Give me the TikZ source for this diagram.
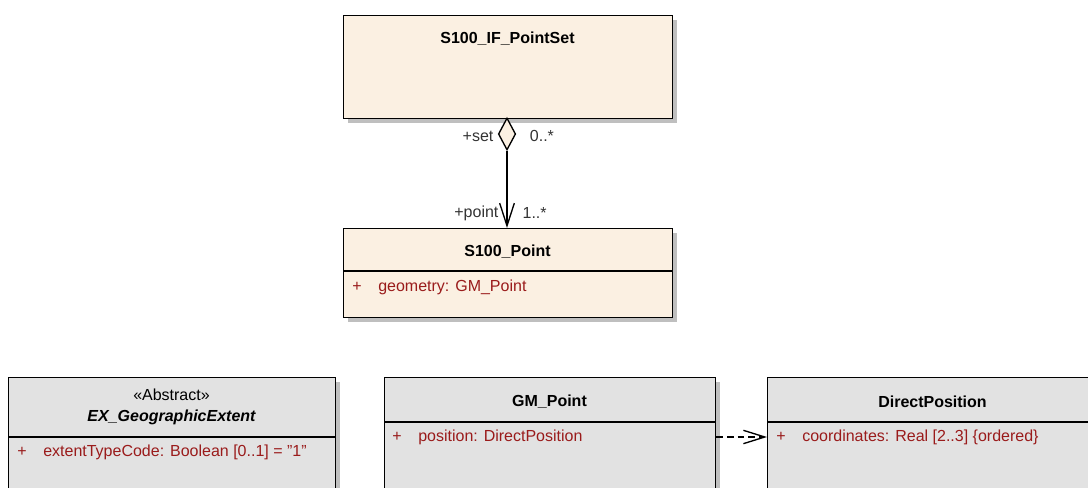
\documentclass[tikz,border=0pt]{standalone}
\usepackage{fontspec}
\setmainfont{Liberation Sans}
\usetikzlibrary{shapes.geometric, arrows.meta, positioning, shadows}
\definecolor{umlBeige}{HTML}{FBF0E2}
\definecolor{umlGray}{HTML}{E2E2E2}
\definecolor{umlAttr}{HTML}{9A1B1B}
\definecolor{umlLabel}{HTML}{333333}
\tikzset{
    classbox/.style={rectangle, draw=black, line width=1pt, anchor=north west, inner sep=0pt, drop shadow={shadow xshift=3pt, shadow yshift=-3pt, fill=black!25, opacity=1}},
    beigebox/.style={classbox, fill=umlBeige},
    graybox/.style={classbox, fill=umlGray},
    classtitle/.style={font=\fontsize{12}{14}\selectfont\bfseries, inner sep=1pt},
    stereo/.style={font=\fontsize{12}{14}\selectfont, inner sep=1pt},
    attr/.style={font=\fontsize{12}{14}\selectfont, text=umlAttr, anchor=west, inner sep=0pt},
    rolelabel/.style={font=\fontsize{12}{14}\selectfont, text=umlLabel, inner sep=1pt},
    aggdiamond/.style={diamond, draw=black, line width=1pt, fill=umlBeige, inner sep=0pt, minimum width=13pt, minimum height=24pt},
    assoc/.style={-{Straight Barb[length=17pt, width=11pt]}, line width=1pt},
    dep/.style={-{Straight Barb[length=16pt, width=10pt]}, dashed, line width=1pt, dash pattern=on 5pt off 3pt},
}
\newcommand{\plusattr}[1]{\makebox[19.5pt][l]{+}#1}

\begin{document}
\begin{tikzpicture}[x=0.75pt, y=-0.75pt]
    \useasboundingbox (0,0) rectangle (1088,488);
    \clip (0,0) rectangle (1088,488);

    % upper classes
    \node[beigebox, minimum width=246.75pt, minimum height=77.25pt] (ptset) at (343,15) {};
    \node[classtitle] (ptsetname) at (507.5,39) {S100\_IF\_PointSet};

    \node[beigebox, minimum width=246.75pt, minimum height=66.75pt] (point) at (343,228) {};
    \node[classtitle] (pointname) at (507.5,252) {S100\_Point};
    \draw[line width=1pt] ([yshift=-32.25pt]point.north west) -- ([yshift=-32.25pt]point.north east);
    \node[attr] (pointattr) at (352,287) {\plusattr{geometry: GM\_Point}};

    % aggregation
    \node[aggdiamond] (agg) at (507,134) {};
    \draw[assoc] (agg.south) -- (agg.south |- point.north);
    \node[rolelabel, left=2pt of agg, yshift=-1.5pt] (setrole) {+set};
    \node[rolelabel, right=9pt of agg, yshift=-1.5pt] (setmult) {0..*};
    \node[rolelabel, anchor=east] (pointrole) at (500,213) {+point};
    \node[rolelabel, anchor=west] (pointmult) at (521,213) {1..*};

    % lower classes
    \node[graybox, minimum width=245.25pt, minimum height=110pt] (geoext) at (8,377) {};
    \node[stereo] (geoextstereo) at (171.5,395) {«Abstract»};
    \node[classtitle, font=\fontsize{12}{14}\selectfont\bfseries\itshape] (geoextname) at (171.5,417) {EX\_GeographicExtent};
    \draw[line width=1pt] ([yshift=-45pt]geoext.north west) -- ([yshift=-45pt]geoext.north east);
    \node[attr] (geoextattr) at (17,452) {\plusattr{extentTypeCode: Boolean [0..1] = \char"22 1\char"22}};

    \node[graybox, minimum width=248.25pt, minimum height=110pt] (gmpoint) at (384,377) {};
    \node[classtitle] (gmpointname) at (549.5,402) {GM\_Point};
    \draw[line width=1pt] ([yshift=-33.75pt]gmpoint.north west) -- ([yshift=-33.75pt]gmpoint.north east);
    \node[attr] (gmpointattr) at (392,437) {\plusattr{position: DirectPosition}};

    \node[graybox, minimum width=248.25pt, minimum height=110pt] (dirpos) at (767,377) {};
    \node[classtitle] (dirposname) at (932.5,402) {DirectPosition};
    \draw[line width=1pt] ([yshift=-33.75pt]dirpos.north west) -- ([yshift=-33.75pt]dirpos.north east);
    \node[attr] (dirposattr) at (776,437) {\plusattr{coordinates: Real [2..3] \{ordered\}}};

    \draw[dep] (gmpointattr -| gmpoint.east) -- (gmpointattr -| dirpos.west);
\end{tikzpicture}
\end{document}
